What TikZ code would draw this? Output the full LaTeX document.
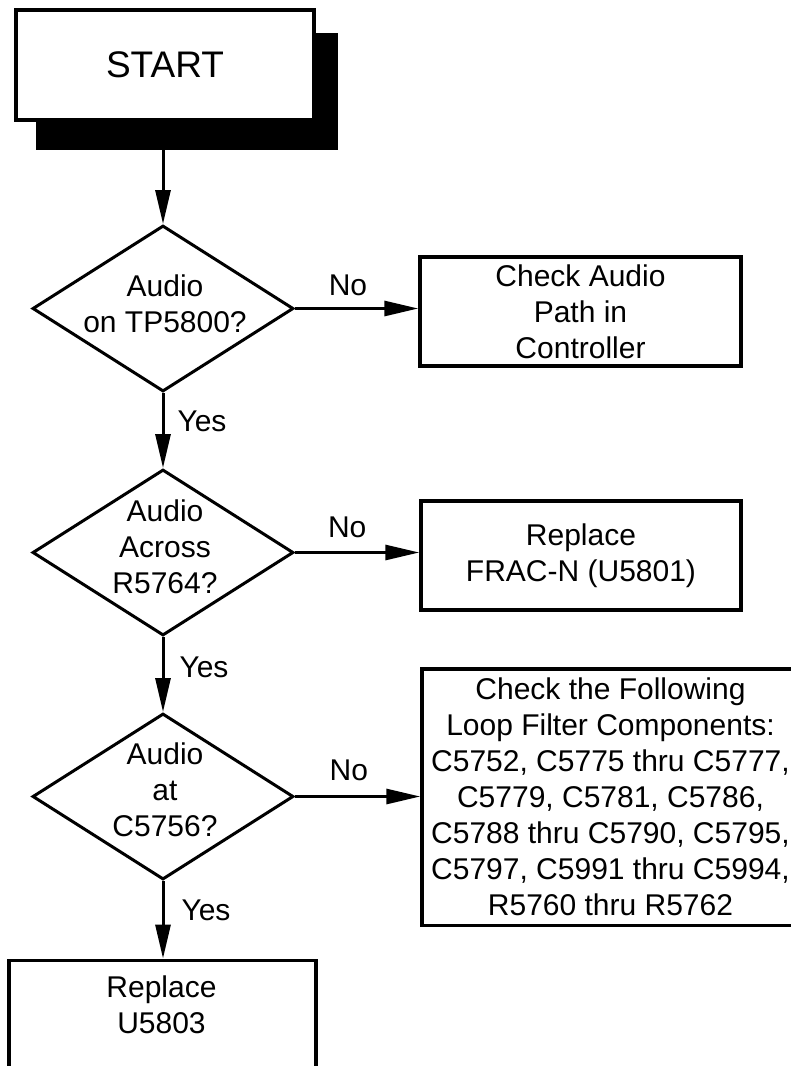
\documentclass[tikz,border=0pt]{standalone}
\usepackage{fontspec}
\setmainfont{Liberation Sans}
\usetikzlibrary{shapes.geometric,arrows.meta}
\begin{document}
\begin{tikzpicture}[x=1pt,y=-1pt,
  txt/.style={align=center,inner sep=0pt,font=\fontsize{30}{36}\selectfont},
  procbox/.style={draw,line width=3.5pt,fill=white,inner sep=0pt,align=center,font=\fontsize{30}{36}\selectfont},
  decision/.style={draw,diamond,line width=3pt,inner sep=0pt,minimum width=261pt,minimum height=166pt},
  arr/.style={line width=3pt,-{Triangle[length=34pt,width=15pt]}},
  lbl/.style={inner sep=0pt,font=\fontsize{30}{36}\selectfont},
]
\useasboundingbox (0,0) rectangle (791,1066);
\clip (0,0) rectangle (791,1066);

% START with shadow
\node[fill=black,inner sep=0pt,minimum width=302pt,minimum height=117pt] (shadow) at (187,91.5) {};
\node[procbox,line width=4pt,minimum width=298pt,minimum height=110pt,font=\fontsize{37}{44}\selectfont] (start) at (165,65) {START};

% decisions
\node[decision] (d1) at (163,308.5) {};
\node[txt] (d1t) at (165,304) {Audio\\on TP5800?};
\node[decision] (d2) at (163,552.5) {};
\node[txt] (d2t) at (165,547) {Audio\\Across\\R5764?};
\node[decision] (d3) at (163,796.5) {};
\node[txt] (d3t) at (165,790) {Audio\\at\\C5756?};

% process boxes
\node[procbox,minimum width=321pt,minimum height=109pt] (b1) at (580.5,311.5) {Check Audio\\Path in\\Controller};
\node[procbox,minimum width=320pt,minimum height=109pt] (b2) at (581,555.5) {Replace\\FRAC-N (U5801)};
\node[procbox,minimum width=377pt,minimum height=256.5pt] (b3) at (610.5,797) {Check the Following\\Loop Filter Components:\\C5752, C5775 thru C5777,\\C5779, C5781, C5786,\\C5788 thru C5790, C5795,\\C5797, C5991 thru C5994,\\R5760 thru R5762};
\node[procbox,anchor=north,minimum width=307pt,minimum height=150pt] (b4) at (162.5,958.5) {};
\node[txt] (b4t) at (161.5,1005) {Replace\\U5803};

% connectors
\draw[arr] (shadow.south -| d1.north) -- (d1.north);
\draw[arr] (d1.east) -- node[lbl,pos=0.43,above=11pt] {No} (d1.east -| b1.west);
\draw[arr] (d1.south) -- node[lbl,pos=0.38,right=13pt] {Yes} (d2.north);
\draw[arr] (d2.east) -- node[lbl,pos=0.42,above=13pt] {No} (d2.east -| b2.west);
\draw[arr] (d2.south) -- node[lbl,pos=0.40,right=15pt] {Yes} (d3.north);
\draw[arr] (d3.east) -- node[lbl,pos=0.43,above=14pt] {No} (d3.east -| b3.west);
\draw[arr] (d3.south) -- node[lbl,pos=0.38,right=17pt] {Yes} (d3.south |- b4.north);
\end{tikzpicture}
\end{document}
